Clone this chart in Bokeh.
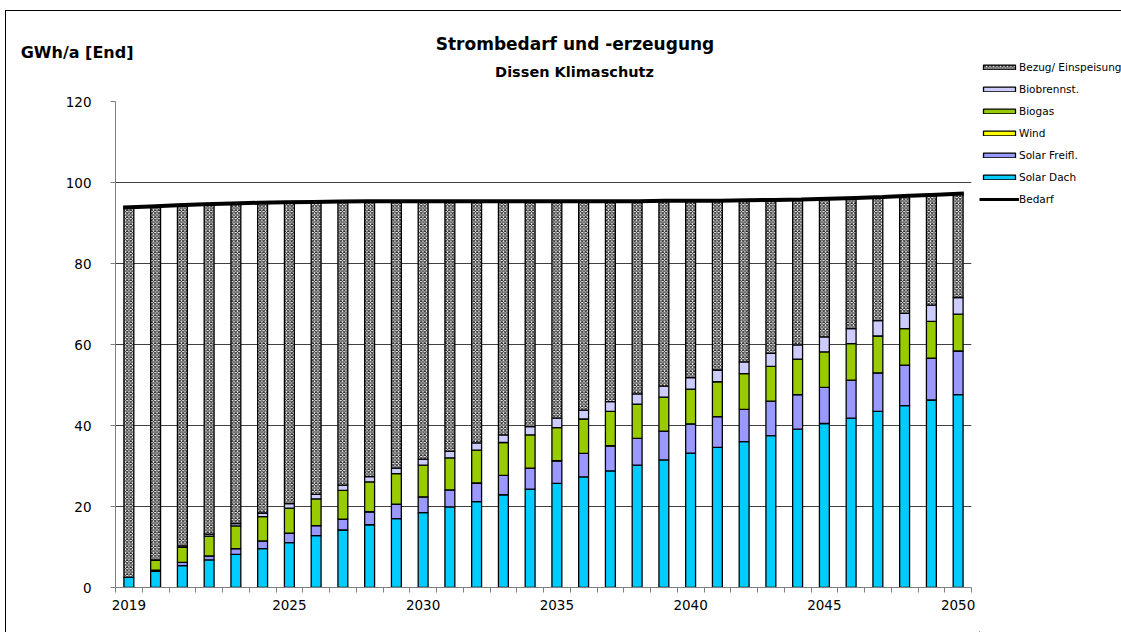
import numpy as np
from bokeh.plotting import figure
from bokeh.layouts import row, column
from bokeh.models import (ColumnDataSource, Label, Legend, LegendItem, FixedTicker,
                          Range1d)
from bokeh.embed import file_html
from bokeh.resources import INLINE

# ---------------- data ----------------
years = list(range(2019, 2051))
solar_dach = [2.5, 4.0, 5.4, 6.8, 8.2, 9.6, 11.1, 12.8, 14.2, 15.5, 17.0, 18.5, 19.9, 21.2, 22.9, 24.3,
              25.7, 27.3, 28.8, 30.2, 31.5, 33.2, 34.6, 36.0, 37.5, 39.1, 40.5, 41.8, 43.5, 44.9, 46.3, 47.6]
solar_freifl = [0.0, 0.3, 0.8, 1.0, 1.4, 1.9, 2.3, 2.5, 2.7, 3.2, 3.6, 3.9, 4.2, 4.6, 4.8, 5.2,
                5.6, 5.8, 6.2, 6.6, 7.1, 7.2, 7.6, 8.0, 8.5, 8.5, 8.9, 9.4, 9.5, 10.0, 10.3, 10.8]
wind = [0.0] * 32
biogas = [0.0, 2.4, 3.7, 4.9, 5.6, 6.0, 6.2, 6.6, 7.1, 7.4, 7.5, 7.8, 7.9, 8.1, 8.1, 8.2,
          8.2, 8.5, 8.5, 8.5, 8.4, 8.6, 8.6, 8.8, 8.6, 8.8, 8.8, 9.0, 9.1, 9.0, 9.1, 9.1]
biobrennst = [0.0, 0.1, 0.4, 0.5, 0.6, 0.9, 1.1, 1.1, 1.3, 1.3, 1.4, 1.5, 1.6, 1.8, 1.9, 2.0,
              2.3, 2.2, 2.4, 2.5, 2.7, 2.8, 2.9, 2.9, 3.2, 3.5, 3.7, 3.7, 3.8, 3.8, 4.0, 4.1]
bedarf = [93.8, 94.1, 94.4, 94.6, 94.8, 95.0, 95.1, 95.2, 95.3, 95.4, 95.4, 95.4, 95.4, 95.4, 95.4, 95.4,
          95.4, 95.4, 95.4, 95.4, 95.5, 95.5, 95.5, 95.6, 95.7, 95.8, 96.0, 96.2, 96.4, 96.7, 97.0, 97.3]
x_labels = [2019, 2025, 2030, 2035, 2040, 2045, 2050]
y_ticks = [0, 20, 40, 60, 80, 100, 120]

title_text = "Strombedarf und -erzeugung"
subtitle_text = "Dissen Klimaschutz"
unit_text = "GWh/a [End]"

# Bezug/ Einspeisung = remainder up to demand
series_names = ["Solar Dach", "Solar Freifl.", "Wind", "Biogas", "Biobrennst."]
series_vals = [solar_dach, solar_freifl, wind, biogas, biobrennst]
gen_total = np.sum(np.array(series_vals), axis=0)
bezug = list(np.array(bedarf) - gen_total)

colors = {"Solar Dach": "#00CCFF", "Solar Freifl.": "#9999FF", "Wind": "#FFFF00",
          "Biogas": "#99CC00", "Biobrennst.": "#CCCCFF"}
HATCH = dict(fill_color="white", hatch_pattern="diagonal_cross", hatch_color="#303030",
             hatch_scale=3.5, hatch_weight=1.1)

FONT = "DejaVu Sans"
BAR_W = 0.37
BAR_LINE = dict(line_color="black", line_width=1.3)

# ---------------- main chart ----------------
p = figure(frame_width=856, frame_height=486, output_backend="svg", toolbar_location=None,
           x_range=Range1d(2018.5, 2050.5), y_range=Range1d(0, 120),
           min_border_left=109, min_border_right=8, min_border_top=9, min_border_bottom=45,
           background_fill_color="white", border_fill_color="white")
p.outline_line_color = None

bottom = np.zeros(len(years))
for name, vals in zip(series_names, series_vals):
    top = bottom + np.array(vals)
    src = ColumnDataSource(dict(x=years, bottom=bottom.copy(), top=top.copy()))
    p.vbar(x="x", bottom="bottom", top="top", width=BAR_W, source=src,
           fill_color=colors[name], **BAR_LINE)
    bottom = top
top = bottom + np.array(bezug)
src = ColumnDataSource(dict(x=years, bottom=bottom.copy(), top=top.copy()))
p.vbar(x="x", bottom="bottom", top="top", width=BAR_W, source=src, **HATCH, **BAR_LINE)

# demand line: spans from left edge of first bar to right edge of last bar
yrs = np.array(years, dtype=float)
x0 = yrs[0] - BAR_W / 2 - 0.03
x1 = yrs[-1] + BAR_W / 2 + 0.03
line_x = x0 + (yrs - yrs[0]) * (x1 - x0) / (yrs[-1] - yrs[0])
p.line(line_x, bedarf, line_color="black", line_width=4)

p.xaxis.ticker = FixedTicker(ticks=x_labels, minor_ticks=[2018.5 + i for i in range(33)])
p.xaxis.major_tick_out = 0
p.xaxis.major_tick_in = 0
p.xaxis.minor_tick_out = 5
p.xaxis.minor_tick_in = 0
p.xaxis.major_label_standoff = 7
p.yaxis.ticker = FixedTicker(ticks=y_ticks)
p.yaxis.major_tick_out = 5
p.yaxis.major_tick_in = 0
p.yaxis.minor_tick_out = 0
p.yaxis.minor_tick_in = 0
p.yaxis.major_label_standoff = 19
for ax in (p.xaxis, p.yaxis):
    ax.axis_line_color = "#808080"
    ax.major_tick_line_color = "#808080"
    ax.minor_tick_line_color = "#808080"
    ax.major_label_text_font = FONT
    ax.major_label_text_font_size = "13.5px"
    ax.major_label_text_color = "black"
p.xgrid.visible = False
p.ygrid.ticker = FixedTicker(ticks=y_ticks)
p.ygrid.grid_line_color = "#404040"
p.ygrid.grid_line_width = 1

# ---------------- header (titles) ----------------
# header frame is aligned with the main frame (page x 115..971); y in page pixels
h = figure(width=973, height=81, output_backend="svg", toolbar_location=None,
           x_range=Range1d(115, 971), y_range=Range1d(92, 11),
           x_axis_location=None, y_axis_location="left", min_border=0,
           background_fill_color="white", border_fill_color="white")
h.outline_line_color = None
h.grid.visible = False
DY = -6
h.add_layout(Label(x=574.5, y=49.3 + DY, text=title_text, text_align="center",
                   text_baseline="alphabetic", text_font=FONT, text_font_size="17px",
                   text_font_style="bold", text_color="black"))
h.add_layout(Label(x=574, y=77.3 + DY, text=subtitle_text, text_align="center",
                   text_baseline="alphabetic", text_font=FONT, text_font_size="14.5px",
                   text_font_style="bold", text_color="black"))
# unit label drawn as the (horizontal) label of the header's invisible left axis
ya = h.yaxis[0]
ya.ticker = FixedTicker(ticks=[])
ya.axis_line_color = None
ya.major_tick_line_color = None
ya.minor_tick_line_color = None
ya.major_tick_out = 0
ya.minor_tick_out = 0
ya.bounds = (56, 65)
ya.axis_label = unit_text
ya.axis_label_orientation = "horizontal"
ya.axis_label_standoff = -18
ya.axis_label_text_font = FONT
ya.axis_label_text_font_size = "16px"
ya.axis_label_text_font_style = "bold"
ya.axis_label_text_color = "black"

# ---------------- legend strip ----------------
lg = figure(width=142, height=621, output_backend="svg", toolbar_location=None,
            x_range=Range1d(0, 1), y_range=Range1d(0, 1),
            x_axis_location=None, y_axis_location=None, min_border=0,
            background_fill_color="white", border_fill_color="white")
lg.outline_line_color = None
lg.grid.visible = False
# one off-range sample per renderer so the legend swatches get their styles
dummy = dict(x=[-10], bottom=[-10], top=[-9])
leg_r = {}
leg_r["Bezug/ Einspeisung"] = lg.vbar(x="x", bottom="bottom", top="top", width=0.1,
                                      source=ColumnDataSource(dummy), **HATCH, **BAR_LINE)
for name in ["Biobrennst.", "Biogas", "Wind", "Solar Freifl.", "Solar Dach"]:
    leg_r[name] = lg.vbar(x="x", bottom="bottom", top="top", width=0.1,
                          source=ColumnDataSource(dummy), fill_color=colors[name], **BAR_LINE)
leg_r["Bedarf"] = lg.line(x=[-10, -9], y=[-10, -10], line_color="black", line_width=3)
order = ["Bezug/ Einspeisung", "Biobrennst.", "Biogas", "Wind", "Solar Freifl.", "Solar Dach", "Bedarf"]
legend = Legend(items=[LegendItem(label=n, renderers=[leg_r[n]]) for n in order],
                location=(0, 423), orientation="vertical",
                border_line_color=None, background_fill_alpha=0, padding=0, margin=0,
                spacing=2, glyph_width=40, glyph_height=6, label_standoff=0,
                label_height=20, label_text_font=FONT, label_text_font_size="10.5px",
                label_text_color="black")
lg.add_layout(legend)

layout = row(column(h, p, styles={"overflow": "hidden"}), lg,
             styles={"margin-left": "5px", "margin-top": "10px", "overflow": "hidden",
                     "border-top": "1px solid black", "border-left": "1px solid black"})

open("out.html", "w").write(file_html(layout, INLINE))
